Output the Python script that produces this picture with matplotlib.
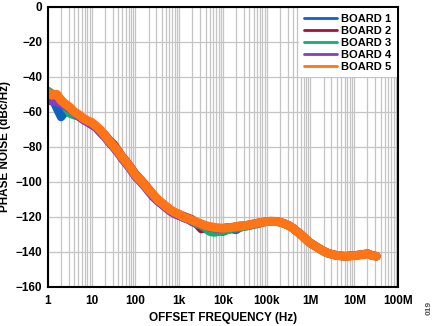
import numpy as np
import matplotlib
matplotlib.use('Agg')
import matplotlib.pyplot as plt
from matplotlib.ticker import LogLocator, NullFormatter

plt.rcParams['font.family'] = ['Liberation Sans', 'DejaVu Sans']
plt.rcParams['font.weight'] = 'bold'

# offset frequency points (Hz)
freq = [1, 1.25, 1.6, 2, 2.5, 3.2, 4, 5, 6.3, 8,
        10, 12.5, 16, 20, 25, 32, 40, 50, 63, 80,
        100, 125, 160, 200, 250, 320, 400, 500, 630, 800,
        1e3, 1.25e3, 1.6e3, 2e3, 2.5e3, 3.2e3, 4e3, 5e3, 6.3e3, 8e3,
        1e4, 1.25e4, 1.6e4, 2e4, 2.5e4, 3.2e4, 4e4, 5e4, 6.3e4, 8e4,
        1e5, 1.25e5, 1.6e5, 2e5, 2.5e5, 3.2e5, 4e5, 5e5, 6.3e5, 8e5,
        1e6, 1.25e6, 1.6e6, 2e6, 2.5e6, 3.2e6, 4e6, 5e6, 6.3e6, 8e6,
        1e7, 1.25e7, 1.6e7, 2e7, 2.5e7, 3.2e7]

# phase noise per board (dBc/Hz)
board1 = [-50, -52, -58, -63, -60, -59, -60.5, -62.5, -64, -65.5,
          -67, -68.5, -71.5, -74, -77, -80, -83, -86.5, -89.5, -93,
          -96.5, -99, -102, -105, -107.5, -110.5, -112.5, -114.5, -116.5, -118,
          -119, -120.5, -121.5, -123, -124, -125.5, -127, -128, -128.5, -128,
          -128.5, -127.5, -127, -127.5, -126, -125.5, -125, -124.5, -124, -123.2,
          -122.8, -122.6, -122.7, -123.1, -123.9, -125, -126.6, -128.5, -130.6, -133,
          -135, -136.6, -138.2, -139.7, -140.8, -141.6, -142, -142.4, -142.5, -142.3,
          -142.2, -141.9, -141.5, -141.1, -142, -142.5]
board2 = [-51, -51.5, -53, -54.5, -56.5, -58.5, -60.5, -62.5, -64, -65.5,
          -66.5, -68.5, -71, -73, -76, -78.5, -82, -85.5, -88.5, -92,
          -95.5, -98, -101, -104, -107, -110, -112, -114, -116, -117.5,
          -118.5, -119.5, -120.5, -121.5, -124, -127, -125, -126, -126.5, -127,
          -127, -126, -126.5, -125.5, -125.5, -125, -124.5, -124, -123.5, -123,
          -122.7, -122.5, -122.6, -123, -123.8, -125, -126.5, -128.5, -130.5, -133,
          -135, -136.5, -138.2, -139.6, -140.7, -141.5, -142, -142.3, -142.5, -142.3,
          -142.2, -141.8, -141.5, -141, -142, -142.5]
board3 = [-48, -49.5, -51, -53, -57, -61, -62, -62.5, -63.5, -65.5,
          -67, -68.5, -71.5, -74, -77, -80, -83, -86.5, -89.5, -93,
          -96.5, -99, -102, -104.5, -107.5, -110, -112.5, -114.5, -116.5, -118,
          -119, -120, -121, -122.5, -124, -125, -126.5, -128.5, -129, -128.5,
          -128, -127.5, -126.5, -126.5, -126, -125.5, -125, -124.2, -123.8, -123.2,
          -122.8, -122.6, -122.6, -123, -123.9, -125.1, -126.5, -128.6, -130.5, -133,
          -135.1, -136.5, -138.3, -139.6, -140.8, -141.5, -142.1, -142.3, -142.6, -142.3,
          -142.2, -141.8, -141.6, -141, -142, -142.6]
board4 = [-53.5, -54, -54.5, -55.5, -56.5, -58.5, -60.5, -62.5, -64.5, -66,
          -67.5, -69, -72, -74.5, -77.5, -80.5, -83.5, -87, -90, -93.5,
          -97, -99.5, -102.5, -105.5, -108.5, -111, -113, -115, -117, -118.5,
          -119.5, -120.5, -121.5, -122.5, -123.5, -124.5, -125, -126, -126.5, -126.8,
          -126.5, -126, -126, -125.5, -125, -125, -124.5, -124, -123.5, -123,
          -122.6, -122.4, -122.5, -122.9, -123.7, -124.9, -126.4, -128.4, -130.4, -132.9,
          -134.9, -136.4, -138.1, -139.5, -140.6, -141.4, -141.9, -142.2, -142.4, -142.2,
          -142.1, -141.7, -141.4, -140.9, -141.9, -142.4]
board5 = [-49, -50.5, -50, -53.5, -55.5, -57.5, -60, -61.5, -63.5, -65,
          -66, -68, -70.5, -73.5, -76.5, -79.5, -82.5, -86, -89, -92.5,
          -96, -98.5, -101.5, -104.5, -107, -110, -112, -114, -116, -117.5,
          -118.5, -120, -121, -122, -123, -124, -125, -125.5, -126, -126.3,
          -126.5, -126.2, -126, -125.5, -125.3, -125, -124.5, -124, -123.5, -123,
          -122.7, -122.5, -122.6, -123, -123.8, -125, -126.5, -128.5, -130.5, -133,
          -135, -136.5, -138.2, -139.6, -140.7, -141.5, -142, -142.3, -142.5, -142.3,
          -142.2, -141.8, -141.5, -141, -142, -142.5]

boards = [board1, board2, board3, board4, board5]
labels = ['BOARD 1', 'BOARD 2', 'BOARD 3', 'BOARD 4', 'BOARD 5']
colors = ['#1062c0', '#a0133c', '#12b070', '#8040c0', '#ff7414']
widths = [6, 6, 6, 6, 6.5]

xtick_vals = [1, 10, 100, 1e3, 1e4, 1e5, 1e6, 1e7, 1e8]
xtick_labels = ['1', '10', '100', '1k', '10k', '100k', '1M', '10M', '100M']
ytick_vals = [0, -20, -40, -60, -80, -100, -120, -140, -160]

fig = plt.figure(figsize=(4.35, 3.26), dpi=100)
ax = fig.add_axes([0.110, 0.120, 0.805, 0.859])

for vals, lab, col, w in zip(boards, labels, colors, widths):
    ax.plot(freq, vals, color=col, lw=w, solid_capstyle='round',
            solid_joinstyle='round', label=lab)

ax.set_xscale('log')
ax.set_xlim(1, 1e8)
ax.set_ylim(-160, 0)
ax.set_xticks(xtick_vals)
ax.set_xticklabels(xtick_labels)
ax.xaxis.set_minor_locator(LogLocator(base=10, subs=np.arange(2, 10), numticks=20))
ax.xaxis.set_minor_formatter(NullFormatter())
ax.set_yticks(ytick_vals)
ax.set_yticklabels(['0'] + ['\u2212' + str(-v) for v in ytick_vals[1:]])

ax.grid(True, which='major', color='#c4c4c4', lw=0.9)
ax.grid(True, which='minor', axis='x', color='#c4c4c4', lw=0.9)
ax.set_axisbelow(True)
ax.tick_params(which='both', length=0, labelsize=8.5)
ax.tick_params(axis='y', pad=4)
ax.tick_params(axis='x', pad=6)
for sp in ax.spines.values():
    sp.set_linewidth(1.5)

ax.set_xlabel('OFFSET FREQUENCY (Hz)', fontsize=8.5, fontweight='bold')
ax.set_ylabel('PHASE NOISE (dBc/Hz)', fontsize=8.5, fontweight='bold')
ax.xaxis.set_label_coords(0.5, -0.089)
ax.yaxis.set_label_coords(-0.105, 0.5)

leg = ax.legend(loc='upper right', fontsize=8, frameon=True, fancybox=False,
                framealpha=1, edgecolor='none', borderaxespad=0.1,
                handlelength=2.9, handletextpad=0.4, labelspacing=0.18,
                borderpad=0.5)
for line in leg.get_lines():
    line.set_linewidth(2)
for t in leg.get_texts():
    t.set_fontweight('bold')

fig.text(0.986, 0.035, '019', rotation=90, fontsize=6, color='#555555',
         ha='center', va='bottom')

fig.savefig('out.png', dpi=100)
